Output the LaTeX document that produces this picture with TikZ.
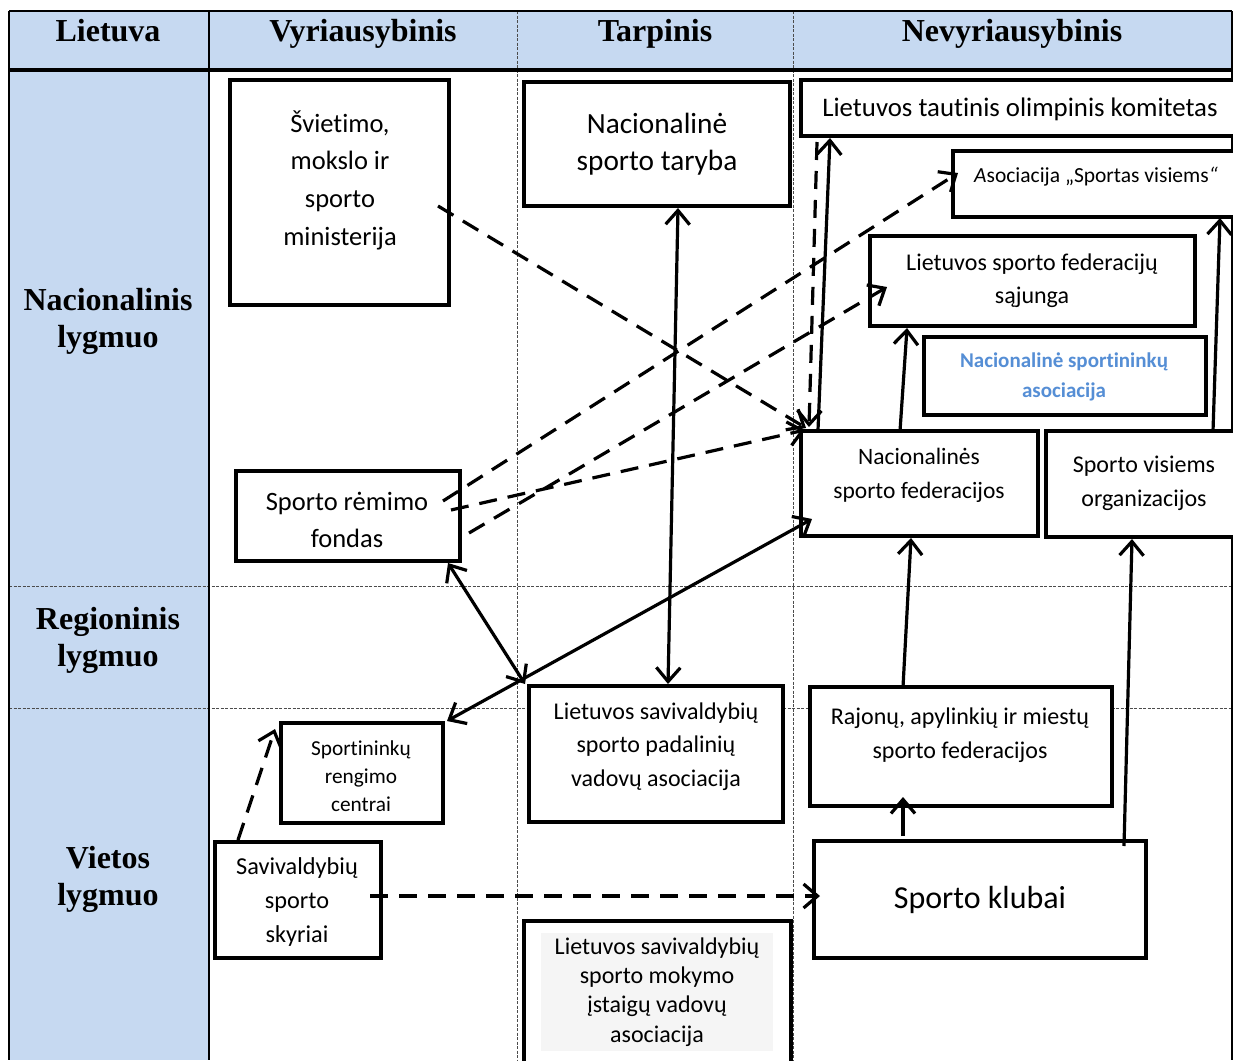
\documentclass[tikz,border=0pt]{standalone}
\usepackage{fontspec}
\setmainfont{Carlito}[Ligatures=CommonOff]
\newfontfamily\hdrfont{Liberation Serif}
\usetikzlibrary{arrows.meta}
\definecolor{hdrblue}{RGB}{198,217,241}
\definecolor{txtblue}{RGB}{85,142,213}
\newcommand{\fs}[2]{\fontsize{#1}{#2}\selectfont}
\begin{document}
\begin{tikzpicture}[x=1pt,y=-1pt,
  box/.style={draw, line width=3.6pt, fill=white, inner sep=0pt, outer sep=0pt},
  lbl/.style={align=center, inner sep=0pt},
  hdr/.style={align=center, inner sep=0pt, font=\hdrfont\bfseries\fs{32}{37}},
  tip/.tip={Straight Barb[length=14pt,width=24pt]},
  sol/.style={line width=3.2pt, -tip},
  sol2/.style={line width=3.2pt, tip-tip},
  dsh/.style={line width=3.2pt, -tip, dash pattern=on 18pt off 11pt},
  grid/.style={line width=0.9pt, black!70, dash pattern=on 3pt off 1.5pt}]
\useasboundingbox (0,0) rectangle (1233,1060);
\clip (0,0) rectangle (1233,1060);
% table background
\fill[white] (0,0) rectangle (1233,1060);
\fill[hdrblue] (9,11) rectangle (1232,70);
\fill[hdrblue] (9,70) rectangle (209,1060);
% grid lines
\draw[grid] (517,11) -- (517,1060);
\draw[grid] (793,11) -- (793,1060);
\draw[grid] (9,586) -- (1232,586);
\draw[grid] (9,708) -- (1232,708);
\draw[line width=2.4pt] (9,11) -- (1232,11);
\draw[line width=2.4pt] (9,11) -- (9,1060);
\draw[line width=1.8pt] (1232,11) -- (1232,1060);
\draw[line width=2.4pt] (209,11) -- (209,1060);
\draw[line width=3.4pt] (9,70) -- (1232,70);
% headers
\node[hdr, anchor=base] (h1) at (108,41) {Lietuva};
\node[hdr, anchor=base] (h2) at (363,41) {Vyriausybinis};
\node[hdr, anchor=base] (h3) at (655,41) {Tarpinis};
\node[hdr, anchor=base] (h4) at (1012,41) {Nevyriausybinis};
\node[hdr] (r1) at (108,321) {Nacionalinis\\lygmuo};
\node[hdr] (r2) at (108,640) {Regioninis\\lygmuo};
\node[hdr] (r3) at (108,879) {Vietos\\lygmuo};
% boxes
\node[box, minimum width=219pt, minimum height=225pt] (sviet) at (339.5,192.5) {};
\node[box, minimum width=266pt, minimum height=124pt] (nst) at (657,144) {};
\node[box, minimum width=439pt, minimum height=56pt] (ltok) at (1020.5,108) {};
\node[box, minimum width=287pt, minimum height=66pt] (asoc) at (1096.5,184) {};
\node[box, minimum width=325pt, minimum height=90pt] (lsfs) at (1032.5,281) {};
\node[box, minimum width=282pt, minimum height=78pt] (nsa) at (1065,376) {};
\node[box, minimum width=237pt, minimum height=105pt] (nsf) at (919.5,483.5) {};
\node[box, minimum width=194pt, minimum height=106pt] (svo) at (1143,484) {};
\node[box, minimum width=224pt, minimum height=90pt] (srf) at (348,516) {};
\node[box, minimum width=254pt, minimum height=136pt] (lsspva) at (656,754) {};
\node[box, minimum width=302pt, minimum height=119pt] (raj) at (961,746.5) {};
\node[box, minimum width=162pt, minimum height=100pt] (src) at (362,773) {};
\node[box, minimum width=166pt, minimum height=116pt] (sss) at (298,900) {};
\node[box, minimum width=332pt, minimum height=117pt] (klub) at (980,899.5) {};
\node[box, minimum width=267pt, minimum height=154pt] (lsmva) at (657.5,998) {};
% texts
\node[lbl, font=\fs{26.5}{37.7}] (tsviet) at (340,180) {Švietimo,\\mokslo ir\\sporto\\ministerija};
\node[lbl, font=\fs{29.3}{37}] (tnst) at (657,144.5) {Nacionalinė\\sporto taryba};
\node[lbl, font=\fs{26.8}{32}] (tltok) at (1020,109) {Lietuvos tautinis olimpinis komitetas};
\node[lbl, font=\fs{21.5}{28}] (tasoc) at (1096,177) {\textit{A}sociacija „Sportas visiems\textit{“}};
\node[lbl, font=\fs{24}{33}] (tlsfs) at (1032,280.5) {Lietuvos sporto federacijų\\sąjunga};
\node[lbl, font=\bfseries\fs{21}{30}, text=txtblue] (tnsa) at (1064,377) {Nacionalinė sportininkų\\asociacija};
\node[lbl, font=\fs{23.5}{34}] (tnsf) at (919,475) {Nacionalinės\\sporto federacijos};
\node[lbl, font=\fs{24}{34}] (tsvo) at (1144,483) {Sporto visiems\\organizacijos};
\node[lbl, font=\fs{26.5}{37}] (tsrf) at (347,519.5) {Sporto rėmimo\\fondas};
\node[lbl, font=\fs{24}{33.5}] (tlsspva) at (656,746.5) {Lietuvos savivaldybių\\sporto padalinių\\vadovų asociacija};
\node[lbl, font=\fs{24}{34}] (traj) at (960,735) {Rajonų, apylinkių ir miestų\\sporto federacijos};
\node[lbl, font=\fs{21.3}{28}] (tsrc) at (361,776) {Sportininkų\\rengimo\\centrai};
\node[lbl, font=\fs{24.3}{34}] (tsss) at (297,902) {Savivaldybių\\sporto\\skyriai};
\node[lbl, font=\fs{32}{38}] (tklub) at (980,900) {Sporto klubai};
\node[lbl, font=\fs{24}{29.3}, fill=black!4, minimum width=232pt, minimum height=118pt] (tlsmva) at (657,992) {Lietuvos savivaldybių\\sporto mokymo\\įstaigų vadovų\\asociacija};
% connectors
\draw[dsh] ([shift={(-11,13.5)}]sviet.east) -- ([shift={(5,-3)}]nsf.north west);
\draw[dsh] ([shift={(-17,-15)}]srf.east) -- ([shift={(5,-11)}]asoc.west);
\draw[dsh] ([shift={(9,17)}]srf.east) -- ([shift={(17,6)}]lsfs.west);
\draw[dsh] ([shift={(-9,-6)}]srf.east) -- ([shift={(4,-1)}]nsf.north west);
\draw[dsh] ([shift={(16,6)}]ltok.south west) -- ([shift={(8,-4)}]nsf.north west);
\draw[sol] ([shift={(17,-1)}]nsf.north west) -- ([shift={(29,2)}]ltok.south west);
\draw[sol2] ([shift={(21,2)}]nst.south) -- ([shift={(12,-2)}]lsspva.north);
\draw[sol2] ([shift={(-12,2)}]srf.south east) -- ([shift={(-4,-2)}]lsspva.north west);
\draw[sol2] ([shift={(11,-17)}]nsf.south west) -- ([shift={(4,-2)}]src.north east);
\draw[sol] ([shift={(-19.5,0)}]nsf.north) -- ([shift={(37,2)}]lsfs.south west);
\draw[sol] ([shift={(-27,0)}]svo.north east) -- ([shift={(-20,1)}]asoc.south east);
\draw[sol] ([shift={(93,0)}]raj.north west) -- ([shift={(-8.5,2)}]nsf.south);
\draw[sol] ([shift={(-22,5)}]klub.north east) -- ([shift={(86,2)}]svo.south west);
\draw[sol] ([shift={(89,-5)}]klub.north west) -- ([shift={(93,-9)}]raj.south west);
\draw[dsh] ([shift={(23,-2)}]sss.north west) -- ([shift={(-6,6)}]src.north west);
\draw[dsh] ([shift={(-11,-4)}]sss.east) -- ([shift={(6,-3.5)}]klub.west);
\end{tikzpicture}
\end{document}
